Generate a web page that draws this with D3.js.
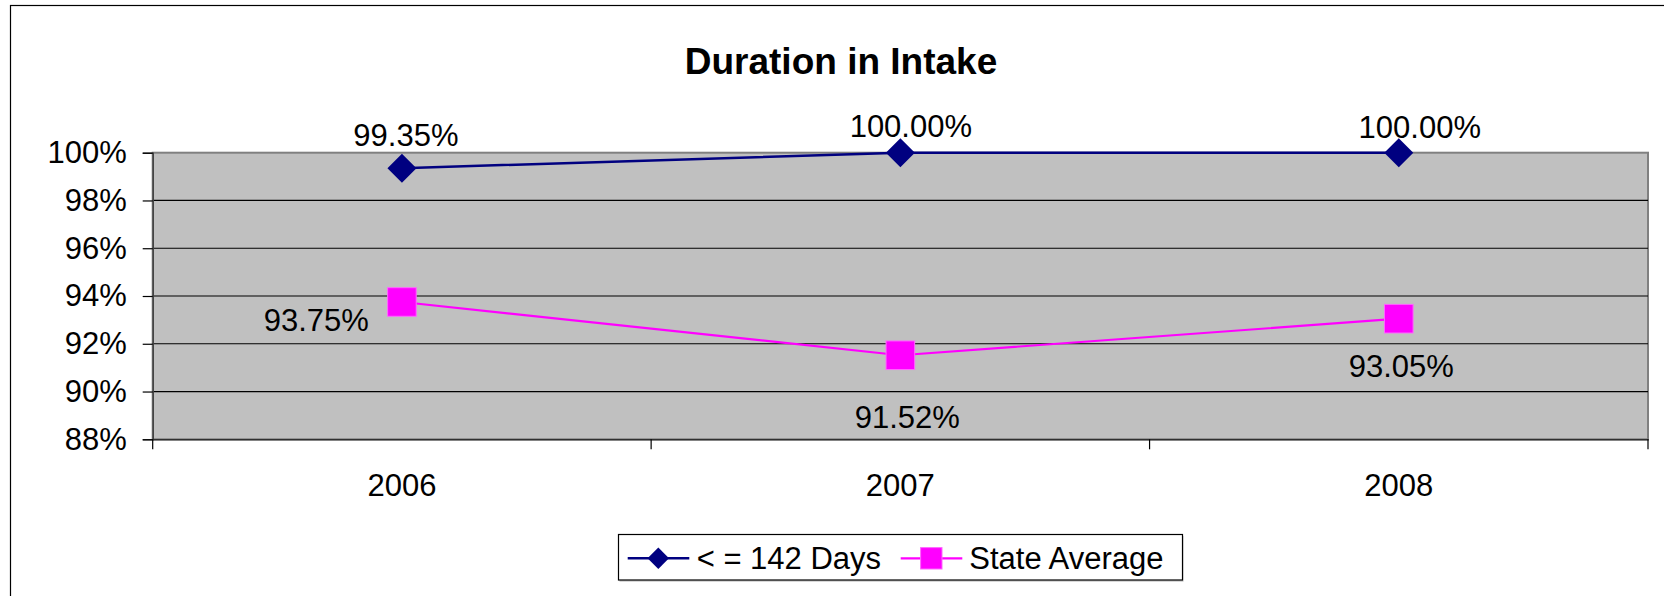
<!DOCTYPE html>
<html>
<head>
<meta charset="utf-8">
<script src="https://cdn.jsdelivr.net/npm/d3@7"></script>
<style>
	html, body { margin: 0; padding: 0; background: #fff; overflow: hidden; }
	svg { display: block; font-family: "Liberation Sans", Arial, sans-serif; }
</style>
</head>
<body>
<svg id="chart" width="1664" height="596"></svg>
<script>
'use strict';

// data
const categories = ["2006", "2007", "2008"];
const daysValues = [0.9935, 1.0, 1.0];
const stateValues = [0.9375, 0.9152, 0.9305];
const yTicks = [0.88, 0.90, 0.92, 0.94, 0.96, 0.98, 1.00];
const seriesNames = ["< = 142 Days", "State Average"];
const title = "Duration in Intake";

// layout
const plot = {left: 152.7, right: 1648, top: 152.7, bottom: 439.3};
const navy = "#000080";
const magenta = "#FF00FF";

// where excel dropped each data label, relative to the marker
const daysLabelPos = [{dx: 4, dy: -22.6, anchor: "middle"}, {dx: 10.5, dy: -16, anchor: "middle"}, {dx: 21, dy: -15, anchor: "middle"}];
const stateLabelPos = [{dx: -33, dy: 29.5, anchor: "end"}, {dx: 7, dy: 73, anchor: "middle"}, {dx: 2.5, dy: 58.6, anchor: "middle"}];

const svg = d3.select("#chart");

const x = d3.scaleBand()
	.domain(categories)
	.range([plot.left, plot.right])
	.padding(0);

const y = d3.scaleLinear()
	.domain([0.88, 1.0])
	.range([plot.bottom, plot.top]);

const cx = c => x(c) + x.bandwidth() / 2;

// outer chart frame, runs off the right and bottom edges
svg.append("rect")
	.attr("x", 10.5).attr("y", 5.5)
	.attr("width", 1700).attr("height", 700)
	.attr("fill", "none")
	.attr("stroke", "#000")
	.attr("stroke-width", 1.2);

// title
svg.append("text")
	.attr("x", 841).attr("y", 74)
	.attr("text-anchor", "middle")
	.attr("font-size", 37)
	.attr("font-weight", "bold")
	.text(title);

// plot area
svg.append("rect")
	.attr("x", plot.left).attr("y", plot.top)
	.attr("width", plot.right - plot.left)
	.attr("height", plot.bottom - plot.top)
	.attr("fill", "#C0C0C0")
	.attr("stroke", "#808080")
	.attr("stroke-width", 2);

// gridlines
svg.append("g")
	.selectAll("line")
	.data(yTicks.filter(t => t > 0.88 && t < 1.0))
	.join("line")
	.attr("x1", plot.left).attr("x2", plot.right)
	.attr("y1", d => y(d)).attr("y2", d => y(d))
	.attr("stroke", "#000")
	.attr("stroke-width", 1.2);

// y axis
const yAxis = svg.append("g")
	.attr("transform", `translate(${plot.left},0)`)
	.call(d3.axisLeft(y)
		.tickValues(yTicks)
		.tickFormat(d3.format(".0%"))
		.tickSize(10)
		.tickPadding(16));
yAxis.select(".domain").attr("stroke", "#404040").attr("stroke-width", 1.5);
yAxis.selectAll(".tick line").attr("stroke", "#000").attr("stroke-width", 1.2);
yAxis.selectAll(".tick text")
	.attr("font-size", 31)
	.attr("fill", "#000")
	.attr("font-family", "\"Liberation Sans\", Arial, sans-serif");

// x axis labels
const xAxis = svg.append("g")
	.attr("transform", `translate(0,${plot.bottom})`)
	.call(d3.axisBottom(x).tickSize(0).tickPadding(35));
xAxis.select(".domain").attr("stroke", "#303030").attr("stroke-width", 1.5);
xAxis.selectAll(".tick text")
	.attr("font-size", 31)
	.attr("fill", "#000")
	.attr("font-family", "\"Liberation Sans\", Arial, sans-serif");

// x ticks on category boundaries
const boundaries = categories.map(c => x(c)).concat([x.range()[1]]);
svg.append("g")
	.selectAll("line")
	.data(boundaries)
	.join("line")
	.attr("x1", d => d).attr("x2", d => d)
	.attr("y1", plot.bottom).attr("y2", plot.bottom + 10)
	.attr("stroke", "#000")
	.attr("stroke-width", 1.2);

// series
const line = d3.line()
	.x((d, i) => cx(categories[i]))
	.y(d => y(d));

svg.append("path")
	.datum(stateValues)
	.attr("d", line)
	.attr("fill", "none")
	.attr("stroke", magenta)
	.attr("stroke-width", 2.2);

svg.append("path")
	.datum(daysValues)
	.attr("d", line)
	.attr("fill", "none")
	.attr("stroke", navy)
	.attr("stroke-width", 2.5);

const diamond = (g, px, py, hw, hh) => g.append("path")
	.attr("d", `M${px},${py - hh}L${px + hw},${py}L${px},${py + hh}L${px - hw},${py}Z`)
	.attr("fill", navy);

const square = (g, px, py, hw, hh) => g.append("rect")
	.attr("x", px - hw).attr("y", py - hh)
	.attr("width", hw * 2).attr("height", hh * 2)
	.attr("fill", magenta)
	.attr("stroke", "#ff66ff")
	.attr("stroke-width", 1);

const markers = svg.append("g");
stateValues.forEach((v, i) => square(markers, cx(categories[i]), y(v), 14.3, 14.3));
daysValues.forEach((v, i) => diamond(markers, cx(categories[i]), y(v), 14.5, 14.5));

// data labels
const pct = d3.format(".2%");
const labels = svg.append("g").attr("font-size", 31).attr("fill", "#000");
daysValues.forEach((v, i) => {
	const p = daysLabelPos[i];
	labels.append("text")
		.attr("x", cx(categories[i]) + p.dx)
		.attr("y", y(v) + p.dy)
		.attr("text-anchor", p.anchor)
		.text(pct(v));
});
stateValues.forEach((v, i) => {
	const p = stateLabelPos[i];
	labels.append("text")
		.attr("x", cx(categories[i]) + p.dx)
		.attr("y", y(v) + p.dy)
		.attr("text-anchor", p.anchor)
		.text(pct(v));
});

// legend
const legend = svg.append("g");
legend.append("rect")
	.attr("x", 619.5).attr("y", 536)
	.attr("width", 564).attr("height", 45.7)
	.attr("fill", "#c8c8c8");
legend.append("rect")
	.attr("x", 618.5).attr("y", 534.5)
	.attr("width", 564).attr("height", 45.5)
	.attr("fill", "#fff")
	.attr("stroke", "#000")
	.attr("stroke-width", 1.2);

const legendY = 558.3;
legend.append("line")
	.attr("x1", 627.7).attr("x2", 689.3)
	.attr("y1", legendY).attr("y2", legendY)
	.attr("stroke", navy).attr("stroke-width", 2.5);
diamond(legend, 658.3, legendY, 10.7, 10.7);
legend.append("text")
	.attr("x", 696.7).attr("y", 569.3)
	.attr("font-size", 31)
	.text(seriesNames[0]);

legend.append("line")
	.attr("x1", 900.7).attr("x2", 962.3)
	.attr("y1", legendY).attr("y2", legendY)
	.attr("stroke", magenta).attr("stroke-width", 2.2);
square(legend, 931.3, legendY, 10.7, 10.7);
legend.append("text")
	.attr("x", 969.3).attr("y", 569.3)
	.attr("font-size", 31)
	.text(seriesNames[1]);
</script>
</body>
</html>
